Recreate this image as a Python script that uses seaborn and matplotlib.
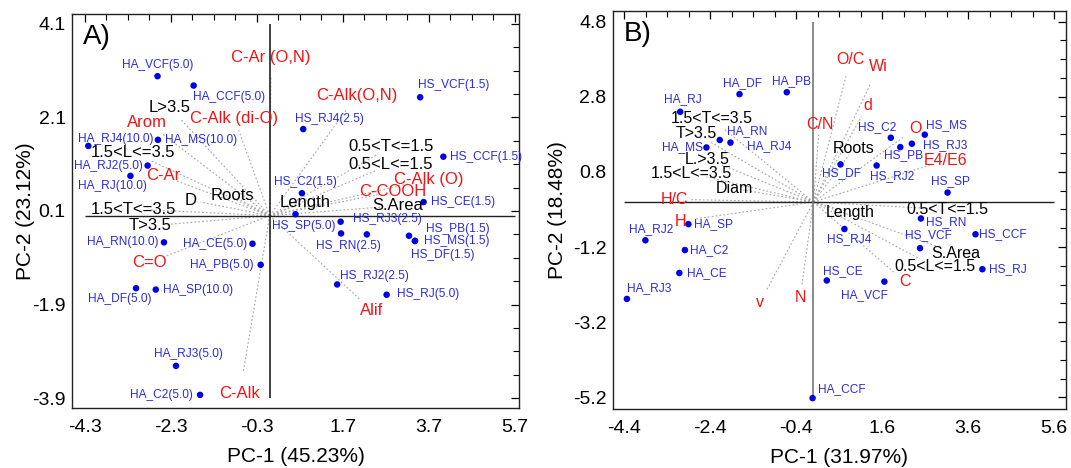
import numpy as np
import pandas as pd
import seaborn as sns
import matplotlib
matplotlib.use('Agg')
import matplotlib.pyplot as plt
from matplotlib.ticker import FixedLocator

# ---------------- panel A (PC-1 45.23% / PC-2 23.12%) ----------------
a_names = ['HA_VCF(5.0)', 'HA_CCF(5.0)', 'HA_MS(10.0)', 'HA_RJ4(10.0)', 'HA_RJ2(5.0)',
           'HA_RJ(10.0)', 'HA_RN(10.0)', 'HA_CE(5.0)', 'HA_PB(5.0)', 'HA_DF(5.0)',
           'HA_SP(10.0)', 'HA_RJ3(5.0)', 'HA_C2(5.0)', 'HS_VCF(1.5)', 'HS_RJ4(2.5)',
           'HS_CCF(1.5)', 'HS_C2(1.5)', 'HS_CE(1.5)', 'HS_SP(5.0)', 'HS_RJ3(2.5)',
           '', 'HS_RN(2.5)', 'HS_PB(1.5)', 'HS_MS(1.5)', 'HS_DF(1.5)',
           'HS_RJ2(2.5)', 'HS_RJ(5.0)']
a_pc1 = [-2.61, -1.77, -2.60, -4.22, -2.84, -3.24, -2.46, -0.40, -0.21, -3.11,
         -2.65, -2.18, -1.62, 3.50, 0.78, 4.04, 0.75, 3.58, 0.60, 1.65,
         1.66, 2.26, 3.24, 3.38, 3.38, 1.57, 2.72]
a_pc2 = [2.98, 2.78, 1.62, 1.49, 1.07, 0.85, -0.57, -0.60, -1.05, -1.55,
         -1.58, -3.21, -3.83, 2.53, 1.85, 1.26, 0.48, 0.29, 0.03, -0.13,
         -0.38, -0.40, -0.43, -0.54, -0.54, -1.47, -1.69]

a_red = ['C-Ar (O,N)', 'C-Alk(O,N)', 'C-Alk (di-O)', 'Arom', 'C-Ar', 'C-Alk (O)',
         'C-COOH', 'C=O', 'C-Alk', 'Alif']
a_red_x = [0.03, 2.02, -0.82, -2.86, -2.48, 3.70, 2.87, -2.79, -0.70, 2.37]
a_red_y = [3.37, 2.56, 2.07, 2.00, 0.85, 0.78, 0.51, -1.00, -3.80, -2.02]

a_blk = ['L>3.5', '1.5<L<=3.5', 'Roots', 'D', '1.5<T<=3.5', 'T>3.5', 'Length',
         '0.5<T<=1.5', '0.5<L<=1.5', 'S.Area']
a_blk_x = [-2.33, -3.18, -0.86, -1.83, -3.16, -2.79, 0.83, 2.82, 2.82, 2.97]
a_blk_y = [2.32, 1.35, 0.42, 0.33, 0.14, -0.22, 0.29, 1.47, 1.10, 0.21]

a_xticks = [-4.3, -2.3, -0.3, 1.7, 3.7, 5.7]
a_yticks = [4.1, 2.1, 0.1, -1.9, -3.9]

# ---------------- panel B (PC-1 31.97% / PC-2 18.48%) ----------------
b_names = ['HA_DF', 'HA_PB', 'HA_RJ', 'HA_RN', 'HA_RJ4', 'HA_MS', 'HA_SP', 'HA_RJ2',
           'HA_C2', 'HA_CE', 'HA_RJ3', 'HA_CCF', 'HS_RJ4', 'HS_CE', 'HA_VCF', 'HS_RN',
           'HS_VCF', 'HS_CCF', 'HS_RJ', 'HS_C2', 'HS_MS', 'HS_RJ3', 'HS_PB', 'HS_DF',
           'HS_RJ2', 'HS_SP']
b_pc1 = [-1.72, -0.62, -3.10, -2.18, -1.93, -2.49, -2.91, -3.91, -2.99, -3.12,
         -4.34, -0.02, 0.72, 0.31, 1.65, 2.50, 2.48, 3.77, 3.93, 1.80,
         2.59, 2.29, 2.02, 0.63, 1.47, 3.12]
b_pc2 = [2.87, 2.92, 2.40, 1.65, 1.58, 1.45, -0.59, -1.02, -1.28, -1.89,
         -2.58, -5.22, -0.72, -2.09, -2.12, -0.44, -1.23, -0.86, -1.79, 1.71,
         1.79, 1.55, 1.46, 1.00, 0.97, 0.25]

b_red = ['O/C', 'Wi', 'd', 'C/N', 'O', 'E4/E6', 'H/C', 'H', 'v', 'N', 'C']
b_red_x = [0.86, 1.52, 1.27, 0.14, 2.38, 3.07, -3.24, -3.10, -1.24, -0.31, 2.13]
b_red_y = [3.80, 3.60, 2.58, 2.05, 1.96, 1.11, 0.07, -0.51, -2.67, -2.55, -2.13]

b_blk = ['1.5<T<=3.5', 'T>3.5', 'L.>3.5', '1.5<L<=3.5', 'Diam', 'Roots', 'Length',
         '0.5<T<=1.5', 'S.Area', '0.5<L<=1.5']
b_blk_x = [-2.37, -2.72, -2.47, -2.83, -1.85, 0.94, 0.86, 3.12, 3.30, 2.82]
b_blk_y = [2.21, 1.81, 1.14, 0.76, 0.36, 1.42, -0.28, -0.20, -1.36, -1.73]

b_xticks = [-4.4, -2.4, -0.4, 1.6, 3.6, 5.6]
b_yticks = [4.8, 2.8, 0.8, -1.2, -3.2, -5.2]

# label placement for the sample names (offset in pixels, alignment)
a_place = [(0, 11, 'center'), (-1, -11, 'left'), (7, 0, 'left'), (-10, 7, 'left'),
           (-5, 0, 'right'), (-18, -10, 'center'), (-5, 0, 'right'), (-5, 0, 'right'),
           (-7, 0, 'right'), (-16, -11, 'center'), (7, 0, 'left'), (12, 12, 'center'),
           (-7, 0, 'right'), (-2, 12, 'left'), (-8, 10, 'left'), (7, 0, 'left'),
           (4, 11, 'center'), (7, 0, 'left'), (8, -12, 'center'), (12, 3, 'left'),
           (0, 0, 'left'), (-18, -12, 'center'), (17, 7, 'left'), (9, 0, 'left'),
           (28, -14, 'center'), (3, 8, 'left'), (10, 1, 'left')]
b_place = [(3, 11, 'center'), (5, 11, 'center'), (3, 13, 'center'), (7, 9, 'left'),
           (17, -3, 'left'), (-3, 0, 'right'), (6, 0, 'left'), (6, 11, 'center'),
           (5, 0, 'left'), (8, 0, 'left'), (0, 11, 'left'), (5, 9, 'left'),
           (5, -10, 'center'), (16, 9, 'center'), (-20, -13, 'center'), (5, -4, 'left'),
           (8, 13, 'center'), (4, 0, 'left'), (7, 0, 'left'), (-14, 11, 'center'),
           (1, 10, 'left'), (11, -1, 'left'), (3, -8, 'center'), (1, -9, 'center'),
           (16, -11, 'center'), (3, 11, 'center')]

sns.set_style('white')
plt.rcParams['font.family'] = ['Liberation Sans', 'DejaVu Sans']
plt.rcParams['text.color'] = 'black'
plt.rcParams['axes.labelcolor'] = 'black'
plt.rcParams['xtick.color'] = 'black'
plt.rcParams['ytick.color'] = 'black'

BLUE = '#0000e6'
BLUE_TXT = '#2b2bd9'
RED = '#f01414'


def biplot(ax, names, pc1, pc2, place, red, rx, ry, blk, bx, by, xt, yt, xlim, ylim,
           vcol, xlab, ylab, tag, vsize):
    # loading lines (dotted, from origin)
    for vx, vy in list(zip(rx, ry)) + list(zip(bx, by)):
        ax.plot([0, vx * 0.88], [0, vy * 0.88], ls=(0, (1.5, 2)), color='#a5a5a5',
                lw=0.8, zorder=1)
    ax.hlines(0, xt[0], xt[-1], color='#222222', lw=1.0, zorder=2)
    ax.vlines(0, yt[-1], yt[0], color=vcol, lw=1.2, zorder=2)

    df = pd.DataFrame({'pc1': pc1, 'pc2': pc2, 'name': names})
    sns.scatterplot(data=df, x='pc1', y='pc2', color=BLUE, s=22, edgecolor='none',
                    ax=ax, zorder=4)
    for (n, x, y), (dx, dy, ha) in zip(zip(names, pc1, pc2), place):
        if n:
            ax.annotate(n, (x, y), xytext=(dx, dy), textcoords='offset pixels',
                        ha=ha, va='center', fontsize=8.6, color=BLUE_TXT, zorder=5)
    for t, x, y in zip(red, rx, ry):
        ax.text(x, y, t, ha='center', va='center', fontsize=vsize, color=RED, zorder=5)
    for t, x, y in zip(blk, bx, by):
        ax.text(x, y, t, ha='center', va='center', fontsize=vsize, color='black', zorder=5)

    ax.set_xlim(*xlim)
    ax.set_ylim(*ylim)
    ax.xaxis.set_major_locator(FixedLocator(xt))
    ax.yaxis.set_major_locator(FixedLocator(yt))
    ax.xaxis.set_minor_locator(FixedLocator(np.arange(xt[0], xt[-1] + 0.01, 0.5)))
    ax.yaxis.set_minor_locator(FixedLocator(np.arange(yt[-1], yt[0] + 0.01, 0.5)))
    ax.set_xticklabels([f'{v:.1f}' for v in xt])
    ax.set_yticklabels([f'{v:.1f}' for v in yt])
    ax.tick_params(which='both', direction='in', top=True, right=True, labelsize=14,
                   colors='black')
    ax.tick_params(axis='x', which='both', pad=8)
    ax.tick_params(axis='y', which='both', pad=4.5)
    ax.tick_params(which='major', length=6, width=0.9)
    ax.tick_params(which='minor', length=4, width=0.8)
    for sp in ax.spines.values():
        sp.set_color('#222222')
        sp.set_linewidth(1.0)
    ax.set_xlabel(xlab, fontsize=15, color='black')
    ax.set_ylabel(ylab, fontsize=15, color='black')
    ax.text(0.024, 0.942, tag, transform=ax.transAxes, fontsize=20, ha='left',
            va='center', color='black')


fig = plt.figure(figsize=(10.71, 4.68), dpi=100)
ax1 = fig.add_axes([0.0672, 0.1282, 0.4174, 0.842])
ax2 = fig.add_axes([0.5721, 0.1261, 0.4230, 0.851])

biplot(ax1, a_names, a_pc1, a_pc2, a_place, a_red, a_red_x, a_red_y,
       a_blk, a_blk_x, a_blk_y, a_xticks, a_yticks, (-4.6, 5.8), (-4.11, 4.31),
       '#222222', 'PC-1 (45.23%)', 'PC-2 (23.12%)', 'A)', 12)
biplot(ax2, b_names, b_pc1, b_pc2, b_place, b_red, b_red_x, b_red_y,
       b_blk, b_blk_x, b_blk_y, b_xticks, b_yticks, (-4.67, 5.87), (-5.51, 5.09),
       '#777777', 'PC-1 (31.97%)', 'PC-2 (18.48%)', 'B)', 11.5)

ax1.xaxis.set_label_coords(0.5, -0.10)
ax1.yaxis.set_label_coords(-0.083, 0.5)
ax2.xaxis.set_label_coords(0.5, -0.098)
ax2.yaxis.set_label_coords(-0.10, 0.5)

fig.savefig('out.png', dpi=100)
